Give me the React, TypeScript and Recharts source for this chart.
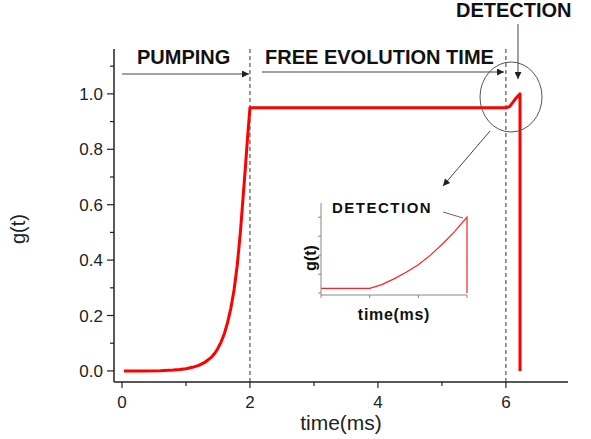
import { LineChart, Line, XAxis, YAxis, ReferenceLine } from 'recharts';

// main curve g(t)
const timeMs = [0.03, 0.3, 0.6, 0.8, 0.9, 1.0, 1.1, 1.2, 1.3, 1.4, 1.45, 1.5, 1.55, 1.6, 1.65, 1.7, 1.75, 1.8, 1.85, 1.89, 1.93, 1.965, 2.0, 6.01, 6.06, 6.11, 6.16, 6.22, 6.22];
const gValues = [0, 0, 0.001, 0.003, 0.005, 0.008, 0.013, 0.02, 0.032, 0.05, 0.064, 0.082, 0.105, 0.135, 0.175, 0.225, 0.29, 0.38, 0.5, 0.62, 0.74, 0.85, 0.95, 0.95, 0.955, 0.97, 0.985, 1.0, 0];

const xTicks = [0, 1, 2, 3, 4, 5, 6];
const yTicks = [0, 0.1, 0.2, 0.3, 0.4, 0.5, 0.6, 0.7, 0.8, 0.9, 1.0, 1.1];
const phaseMarks = [2, 6];

// inset: zoom on the detection window
const insetTime = [0, 1, 1.25, 1.5, 1.75, 2, 2.25, 2.5, 2.75, 3, 3];
const insetG = [0.05, 0.05, 0.09, 0.15, 0.22, 0.3, 0.4, 0.52, 0.65, 0.8, 0];
const insetXTicks = [0, 1, 2, 3];
const insetYTicks = [0, 0.2, 0.4, 0.6, 0.8];

const data = timeMs.map((t, i) => ({ t, g: gValues[i] }));
const insetData = insetTime.map((t, i) => ({ t, g: insetG[i] }));

const FONT = '"Liberation Sans", Arial, sans-serif';
const AXIS = '#222';

const YTick = (props: any) => {
  const { x, y, payload } = props;
  const v = payload.value;
  const major = Math.round(v * 10) % 2 === 0;
  return (
    <g>
      <line x1={x - (major ? 7 : 4)} x2={x} y1={y} y2={y} stroke={AXIS} strokeWidth={1.2} />
      {major && (
        <text x={x - 11} y={y} dy="0.36em" textAnchor="end" fontSize={17} fill={AXIS} fontFamily={FONT}>
          {v.toFixed(1)}
        </text>
      )}
    </g>
  );
};

const XTick = (props: any) => {
  const { x, y, payload } = props;
  const v = payload.value;
  const major = v % 2 === 0;
  return (
    <g>
      <line x1={x} x2={x} y1={y} y2={y + (major ? 6 : 4)} stroke={AXIS} strokeWidth={1.2} />
      {major && (
        <text x={x} y={y + 26} textAnchor="middle" fontSize={17} fill={AXIS} fontFamily={FONT}>
          {v}
        </text>
      )}
    </g>
  );
};

const InsetYTick = (props: any) => (
  <line x1={props.x - 3} x2={props.x} y1={props.y} y2={props.y} stroke="#888" strokeWidth={1} />
);
const InsetXTick = (props: any) => (
  <line x1={props.x} x2={props.x} y1={props.y} y2={props.y + 3} stroke="#888" strokeWidth={1} />
);

const Inset = () => (
  <div style={{ position: 'absolute', left: 300, top: 190, width: 180, height: 140 }}>
    <LineChart width={180} height={140} data={insetData} margin={{ top: 13, right: 13, left: 16, bottom: 30 }}>
      <XAxis
        dataKey="t"
        type="number"
        domain={[0, 3]}
        ticks={insetXTicks}
        interval={0}
        height={5}
        tickSize={0}
        tickMargin={0}
        tickLine={false}
        tick={<InsetXTick />}
        axisLine={{ stroke: '#888', strokeWidth: 1 }}
      />
      <YAxis
        type="number"
        domain={[-0.02, 0.95]}
        ticks={insetYTicks}
        interval={0}
        width={5}
        tickSize={0}
        tickMargin={0}
        tickLine={false}
        tick={<InsetYTick />}
        axisLine={{ stroke: '#888', strokeWidth: 1 }}
      />
      <Line type="linear" dataKey="g" stroke="#ff2020" strokeWidth={1.2} dot={false} isAnimationActive={false} />
    </LineChart>
  </div>
);

export default function App() {
  return (
    <div style={{ position: 'absolute', left: 0, top: 0, width: 591, height: 439, background: '#fff', fontFamily: FONT }}>
      <LineChart width={591} height={439} data={data} margin={{ top: 49, right: 23, left: 0, bottom: 0 }}>
        <XAxis
          dataKey="t"
          type="number"
          domain={[-0.125, 6.97]}
          allowDataOverflow
          ticks={xTicks}
          interval={0}
          height={57}
          tickSize={0}
          tickMargin={0}
          tickLine={false}
          tick={<XTick />}
          axisLine={{ stroke: AXIS, strokeWidth: 1.5 }}
        />
        <YAxis
          type="number"
          domain={[-0.04, 1.162]}
          allowDataOverflow
          ticks={yTicks}
          interval={0}
          width={114}
          tickSize={0}
          tickMargin={0}
          tickLine={false}
          tick={<YTick />}
          axisLine={{ stroke: AXIS, strokeWidth: 1.5 }}
        />
        {phaseMarks.map((m) => (
          <ReferenceLine key={m} x={m} stroke="#333" strokeWidth={1} strokeDasharray="4 3" />
        ))}
        <Line type="linear" dataKey="g" stroke="#ff0000" strokeWidth={3} strokeLinejoin="round" dot={false} isAnimationActive={false} />
      </LineChart>

      <Inset />

      {/* annotations */}
      <svg width={591} height={439} style={{ position: 'absolute', left: 0, top: 0, pointerEvents: 'none' }}>
        <defs>
          <marker id="head" viewBox="0 0 10 10" refX="10" refY="5" markerWidth="9" markerHeight="7" markerUnits="userSpaceOnUse" orient="auto">
            <path d="M0,0 L10,5 L0,10 z" fill="#222" />
          </marker>
        </defs>
        <text x={137} y={64} fontSize={20} fontWeight="bold" fill="#111">PUMPING</text>
        <text x={265} y={64} fontSize={20} fontWeight="bold" fill="#111">FREE EVOLUTION TIME</text>
        <text x={456} y={17} fontSize={20} fontWeight="bold" fill="#111">DETECTION</text>
        <line x1={122} y1={74} x2={249} y2={74} stroke="#444" strokeWidth={1} markerEnd="url(#head)" />
        <line x1={262} y1={72} x2={504} y2={72} stroke="#444" strokeWidth={1} markerEnd="url(#head)" />
        <line x1={518} y1={24} x2={518} y2={79} stroke="#444" strokeWidth={1} markerEnd="url(#head)" />
        <ellipse cx={511} cy={97} rx={31} ry={35} fill="none" stroke="#555" strokeWidth={1} />
        <line x1={490} y1={131} x2={443} y2={186} stroke="#444" strokeWidth={1} markerEnd="url(#head)" />

        <text fontSize={20} fill={AXIS} textAnchor="middle" transform="rotate(-90 25 229)">
          <tspan x={25} y={229}>g(t)</tspan>
        </text>
        <text x={341} y={430} fontSize={21} fill={AXIS} textAnchor="middle">time(ms)</text>

        <text x={332} y={213} fontSize={15} fontWeight="bold" letterSpacing={1.5} fill="#111">DETECTION</text>
        <line x1={443} y1={212} x2={463} y2={218} stroke="#666" strokeWidth={1} />
        <text x={316} y={258} fontSize={16} fontWeight="bold" fill="#111" textAnchor="middle" transform="rotate(-90 316 258)">g(t)</text>
        <text x={394} y={320} fontSize={16} fontWeight="bold" letterSpacing={0.7} fill="#111" textAnchor="middle">time(ms)</text>
      </svg>
    </div>
  );
}
